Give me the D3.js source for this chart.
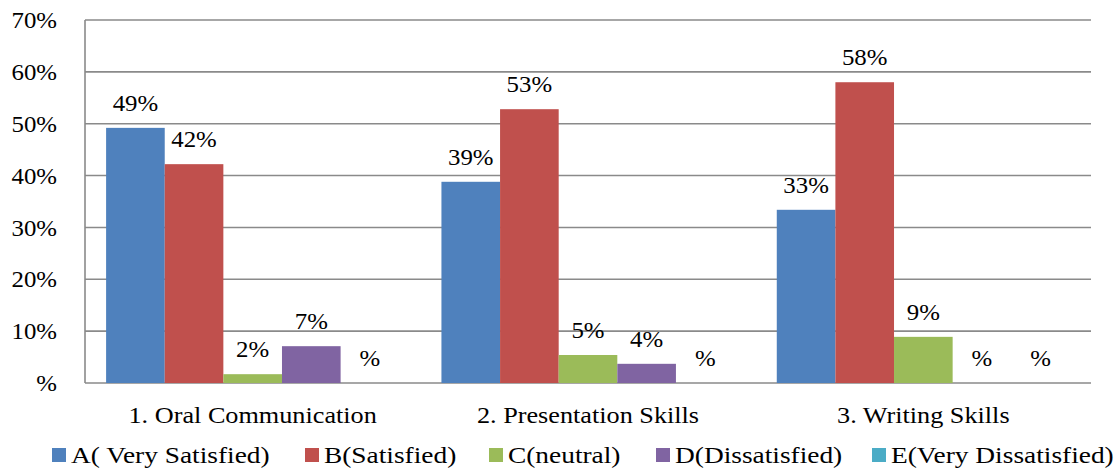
<!DOCTYPE html>
<html>
<head>
<meta charset="utf-8">
<script src="https://cdn.jsdelivr.net/npm/d3@7"></script>
<style>
  html, body { margin: 0; padding: 0; background: #fff; }
  svg { display: block; }
</style>
</head>
<body>
<svg id="chart" width="1115" height="471"></svg>
<script>
// Survey skill areas
const categories = ["1. Oral Communication", "2. Presentation Skills", "3. Writing Skills"];
// Response options
const seriesNames = ["A( Very Satisfied)", "B(Satisfied)", "C(neutral)", "D(Dissatisfied)", "E(Very Dissatisfied)"];
const seriesColors = ["#4F81BD", "#C0504D", "#9BBB59", "#8064A2", "#4BACC6"];
// Share of respondents (%) per option, one array per series, ordered by category
const seriesA = [49.2, 38.8, 33.4];
const seriesB = [42.2, 52.8, 58.0];
const seriesC = [1.7, 5.4, 8.9];
const seriesD = [7.1, 3.7, 0];
const seriesE = [0, 0, 0];
const yTicks = [0, 10, 20, 30, 40, 50, 60, 70];

const seriesValues = [seriesA, seriesB, seriesC, seriesD, seriesE];
const FONT = "'Liberation Serif'";
const FONT_SIZE = 23;

// "0%" style number format that leaves zero as a bare percent sign
const pct = v => (Math.round(v) === 0 ? "" : Math.round(v)) + "%";

// The chart's type is set slightly wide; widen each text run by a factor
function widen(sel, k) {
  sel.each(function () {
    const len = this.getComputedTextLength();
    if (len > 0) {
      d3.select(this).attr("textLength", len * k).attr("lengthAdjust", "spacingAndGlyphs");
    }
  });
}

const svg = d3.select("#chart");
const margin = { left: 85, right: 1091, top: 20, bottom: 383 };

const x0 = d3.scaleBand().domain(categories).range([margin.left, margin.right]).paddingInner(0).paddingOuter(0);
const x1 = d3.scaleBand().domain(d3.range(seriesNames.length)).range([0, x0.bandwidth()]).paddingInner(0).paddingOuter(0.36);
const y = d3.scaleLinear().domain([0, 70]).range([margin.bottom, margin.top]);

// Horizontal gridlines
svg.append("g")
  .selectAll("line")
  .data(yTicks)
  .join("line")
  .attr("x1", margin.left).attr("x2", margin.right)
  .attr("y1", d => y(d)).attr("y2", d => y(d))
  .attr("stroke", "#8a8a8a").attr("stroke-width", 1.6);

// Y axis
const yAxis = d3.axisLeft(y).tickValues(yTicks).tickSize(0).tickPadding(0).tickFormat(pct);
const gy = svg.append("g").attr("transform", `translate(${margin.left - 28},0)`).call(yAxis);
gy.select(".domain").remove();
gy.selectAll("text")
  .attr("font-family", FONT).attr("font-size", FONT_SIZE)
  .attr("dy", "0.33em").attr("fill", "#000")
  .call(widen, 1.08);

svg.append("line")
  .attr("x1", margin.left).attr("x2", margin.left)
  .attr("y1", margin.top).attr("y2", margin.bottom)
  .attr("stroke", "#8a8a8a").attr("stroke-width", 1.6);

// Bars
const groups = svg.append("g").selectAll("g")
  .data(categories)
  .join("g")
  .attr("transform", d => `translate(${x0(d)},0)`);

groups.selectAll("rect")
  .data((c, ci) => seriesValues.map((vals, si) => ({ si, v: vals[ci] })))
  .join("rect")
  .attr("x", d => x1(d.si))
  .attr("width", x1.bandwidth())
  .attr("y", d => y(d.v))
  .attr("height", d => y(0) - y(d.v))
  .attr("fill", d => seriesColors[d.si]);

// Value labels
groups.selectAll("text.val")
  .data((c, ci) => seriesValues.map((vals, si) => ({ si, v: vals[ci] })))
  .join("text")
  .attr("class", "val")
  .attr("x", d => x1(d.si) + x1.bandwidth() / 2)
  .attr("y", d => y(d.v) - 17)
  .attr("text-anchor", "middle")
  .attr("font-family", FONT)
  .attr("font-size", FONT_SIZE)
  .attr("fill", "#000")
  .text(d => pct(d.v))
  .call(widen, 1.08);

// X axis category labels
const xAxis = d3.axisBottom(x0).tickSize(0).tickPadding(0);
const gx = svg.append("g").attr("transform", `translate(0,${margin.bottom + 40})`).call(xAxis);
gx.select(".domain").remove();
gx.selectAll("text")
  .attr("font-family", FONT).attr("font-size", FONT_SIZE)
  .attr("dy", 0).attr("fill", "#000")
  .call(widen, 1.14);

// Legend
const legendX = [52, 305, 489, 656, 872];
const legend = svg.append("g").selectAll("g")
  .data(seriesNames)
  .join("g")
  .attr("transform", (d, i) => `translate(${legendX[i]},448)`);
legend.append("rect").attr("width", 14).attr("height", 14).attr("fill", (d, i) => seriesColors[i]);
legend.append("text").attr("x", 19).attr("y", 15)
  .attr("font-family", FONT).attr("font-size", FONT_SIZE).attr("fill", "#000")
  .text(d => d)
  .call(widen, 1.19);
</script>
</body>
</html>
